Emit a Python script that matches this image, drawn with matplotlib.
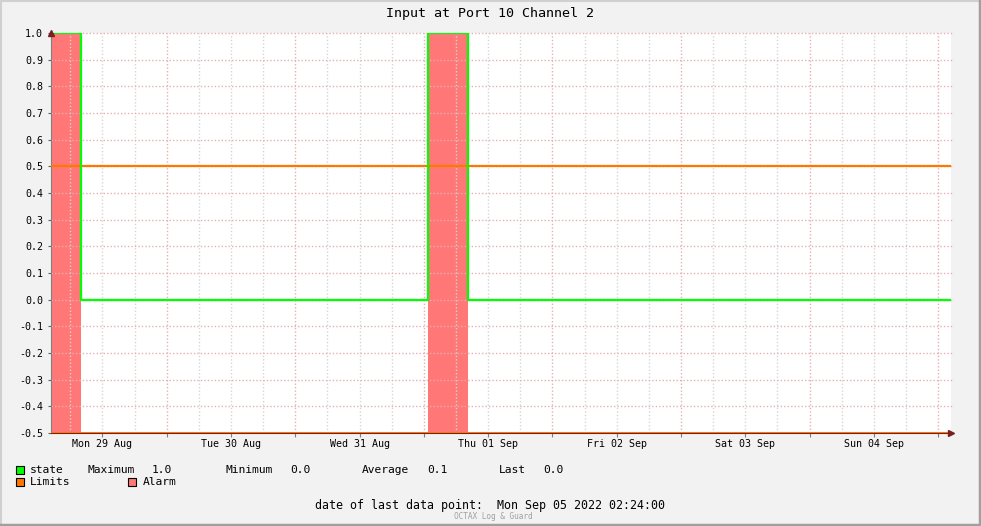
import numpy as np
import pandas as pd
import matplotlib
matplotlib.use("Agg")
import matplotlib.pyplot as plt
import matplotlib.dates as mdates
from matplotlib.patches import Rectangle
from matplotlib.lines import Line2D

# data
t_start = "2022-08-29 02:24"
t_end = "2022-09-05 02:24"
state_times = ["2022-08-29 02:24", "2022-08-29 08:00", "2022-09-01 00:50",
               "2022-09-01 08:18", "2022-09-05 02:24"]
state_values = [1.0, 0.0, 1.0, 0.0, 0.0]
alarm_values = [1, 0, 1, 0, 0]
limit_high = 0.5
limit_low = -0.5

title = "Input at Port 10 Channel 2"
stats_labels = ["Maximum", "Minimum", "Average", "Last"]
stats_values = ["1.0", "0.0", "0.1", "0.0"]
last_point = "Mon Sep 05 2022 02:24:00"

W, H = 981, 526
MONO = "DejaVu Sans Mono"
GREEN = "#00FF00"
ORANGE = "#FF7700"
PINK = "#FF7777"
DARKRED = "#7A1F1F"

t = pd.to_datetime(state_times)
t0, t1 = pd.Timestamp(t_start), pd.Timestamp(t_end)

fig = plt.figure(figsize=(W / 100, H / 100), dpi=100, facecolor="#F2F2F2")
ax = fig.add_axes([51 / W, (H - 433) / H, 900 / W, 400 / H])
ax.set_facecolor("white")
ax.set_xlim(t0, t1)
ax.set_ylim(-0.5, 1.0)

# grid: grey every 6 hours, pink at midnight and on every 0.1
for d in pd.date_range("2022-08-29 06:00", t_end, freq="6h"):
    col = "#E6B0B0" if d.hour == 0 else "#D6D6D6"
    ax.axvline(d, color=col, lw=1, ls=(0, (1, 1.5)), zorder=1.5)
ax.yaxis.set_major_locator(matplotlib.ticker.MultipleLocator(0.1))
for y in np.arange(-0.4, 1.05, 0.1):
    ax.axhline(y, color="#E6B0B0", lw=1, ls=(0, (1, 1.5)), zorder=1.5, clip_on=False,
               xmax=901 / 900)

# alarm bars
alarm_top = np.where(np.array(alarm_values) > 0, 1.0, -0.5)
ax.fill_between(t, -0.5, alarm_top, step="post", color=PINK, lw=0, zorder=1)
# limits
ax.axhline(limit_high, color=ORANGE, lw=1.6, zorder=3)
ax.axhline(limit_low, color=ORANGE, lw=2.2, zorder=3)
# state
ax.plot(t, state_values, drawstyle="steps-post", color=GREEN, lw=1.6, zorder=4)

for s in ["top", "right"]:
    ax.spines[s].set_visible(False)
ax.spines["left"].set_color("#808080")
ax.spines["bottom"].set_color(DARKRED)
ax.spines["bottom"].set_zorder(2.9)

ax.yaxis.set_major_formatter(matplotlib.ticker.FormatStrFormatter("%.1f"))
ax.tick_params(axis="y", length=2.5, width=0.8, color="#606060", pad=3.2,
               labelsize=7.2)
ax.xaxis.set_major_locator(mdates.HourLocator(byhour=[0, 12]))
ax.xaxis.set_major_formatter(matplotlib.ticker.FuncFormatter(
    lambda v, p: mdates.num2date(v).strftime("%a %d %b") if mdates.num2date(v).hour == 12 else ""))
ax.tick_params(axis="x", length=3, width=0.8, color="#808080", pad=1.5,
               labelsize=7.2)
for lab in ax.get_xticklabels() + ax.get_yticklabels():
    lab.set_family(MONO)

# axis arrows
ax.plot([0], [1.0], marker="^", ms=5, color=DARKRED, transform=ax.transAxes,
        clip_on=False, zorder=5)
ax.plot([1.0], [0], marker=">", ms=5, color=DARKRED, transform=ax.transAxes,
        clip_on=False, zorder=5)


def px(x, y):
    return x / W, 1 - y / H


def ftext(x, y, s, size=8.1, **kw):
    fig.text(*px(x, y), s, fontsize=size, family=MONO, va="center", **kw)


ftext(490, 13, title, size=9.6, ha="center")

# legend
def square(x, y, color):
    fig.add_artist(Rectangle(px(x, y + 8), 8 / W, 8 / H, facecolor=color,
                             edgecolor="black", lw=0.8, transform=fig.transFigure))


square(16, 466, GREEN)
ftext(30, 470, "state")
stat_x = [88, 225, 362, 499]
val_x = [152, 290, 427, 543]
for lx, vx, lab, val in zip(stat_x, val_x, stats_labels, stats_values):
    ftext(lx, 470, lab)
    ftext(vx, 470, val)
square(16, 478, ORANGE)
ftext(30, 482, "Limits")
square(128, 478, PINK)
ftext(143, 482, "Alarm")

ftext(315, 505, "date of last data point:  " + last_point, size=8.4)
ftext(493, 516.5, "OCTAX Log & Guard", size=5.6, ha="center", color="#A0A0A0")

# frame
fig.add_artist(Line2D([0, 1], [1 - 1 / H, 1 - 1 / H], color="#D0D0D0", lw=1.5,
                      transform=fig.transFigure))
fig.add_artist(Line2D([1 / W, 1 / W], [0, 1], color="#D0D0D0", lw=1.5,
                      transform=fig.transFigure))
fig.add_artist(Line2D([1 - 1.5 / W, 1 - 1.5 / W], [0, 1], color="#A0A0A0", lw=2.5,
                      transform=fig.transFigure))
fig.add_artist(Line2D([0, 1], [1.5 / H, 1.5 / H], color="#A0A0A0", lw=2.5,
                      transform=fig.transFigure))

fig.savefig("out.png", dpi=100, facecolor=fig.get_facecolor())
